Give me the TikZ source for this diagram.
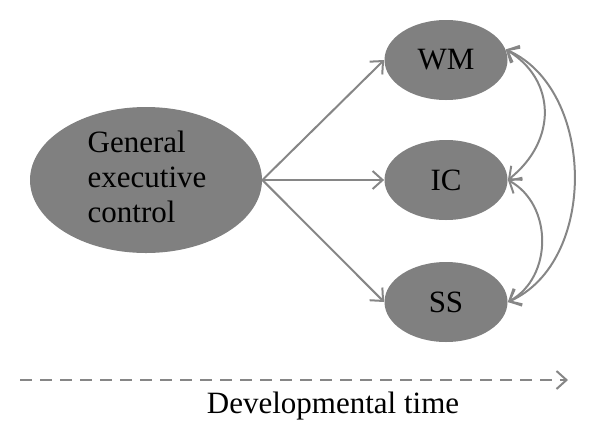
\documentclass[tikz,border=0pt]{standalone}
\usepackage{fontspec}
\setmainfont{Liberation Serif}
\usetikzlibrary{shapes.geometric,arrows.meta}
\definecolor{fillgray}{HTML}{808080}
\definecolor{linegray}{HTML}{868686}
\begin{document}
\begin{tikzpicture}[x=0.5pt,y=-0.5pt,
  blob/.style={ellipse,fill=fillgray,draw=none,inner sep=0pt,minimum width=61.5pt,minimum height=40pt,font=\fontsize{15.5}{16.5}\selectfont},
  conn/.style={draw=linegray,line width=1pt,-{Straight Barb[length=5pt,width=9pt]}},
  both/.style={conn,{Straight Barb[length=5pt,width=9pt]}-{Straight Barb[length=5pt,width=9pt]}}]
\useasboundingbox (0,0) rectangle (600,440);
\node[blob,minimum width=116pt,minimum height=73pt] (ge) at (146,180) {};
\node[align=left,inner sep=0pt,font=\fontsize{15.5}{17.5}\selectfont] (getext) at (147,177) {General\\executive\\control};
\node[blob] (wm) at (446,60) {WM};
\node[blob] (ic) at (446,180) {IC};
\node[blob] (ss) at (446,302) {SS};
\draw[conn] (ge.east) -- (wm.west);
\draw[conn] (ge.east) -- (ic.west);
\draw[conn] (ge.east) -- (ss.west);
\draw[both] (wm.10) .. controls +(50,30) and +(50,-40) .. (ic.east);
\draw[both] (ic.east) .. controls +(45,25) and +(45,-25) .. (ss.east);
\draw[both] (wm.10) .. controls +(90,40) and +(90,-40) .. (ss.east);
\coordinate (ts) at (20,380);
\coordinate (te) at (568,380);
\draw[conn,dash pattern=on 6pt off 4pt] (ts) -- (te);
\node[font=\fontsize{15.5}{16.5}\selectfont,anchor=base] (dt) at (333,413) {Developmental time};
\end{tikzpicture}
\end{document}
